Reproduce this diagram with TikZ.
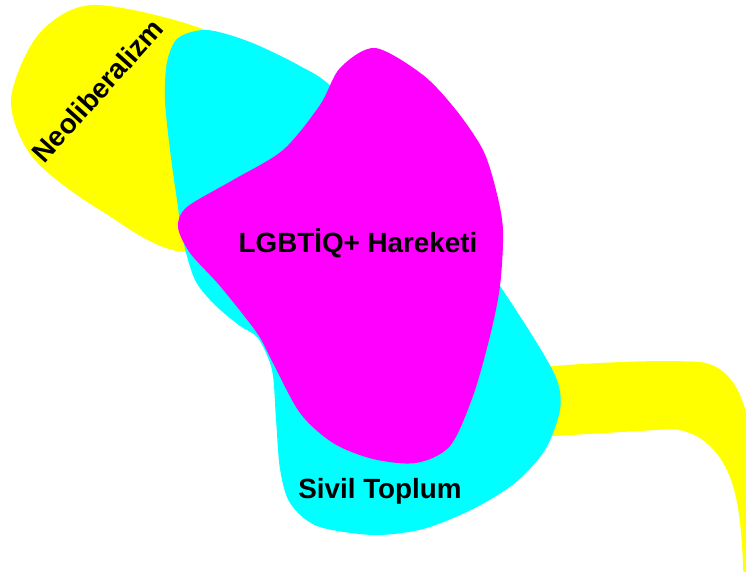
\documentclass[tikz,border=0pt]{standalone}
\usepackage{fontspec}
\setmainfont{Liberation Sans}
\usetikzlibrary{positioning}
\definecolor{mYellow}{HTML}{FFFF00}
\definecolor{mCyan}{HTML}{00FFFF}
\definecolor{mMagenta}{HTML}{FF00FF}

\begin{document}
\begin{tikzpicture}[x=1pt, y=-1pt,
      lbl/.style={font=\fontsize{27.8}{32}\selectfont\bfseries, inner sep=0pt, anchor=base}]
    \useasboundingbox (0,0) rectangle (746,572);
    \clip (0,0) rectangle (746,572);
    % yellow band
    \fill[mYellow] plot[smooth cycle] coordinates {(11,100) (38,35) (92,5) (200,28)
        (300,80) (330,200) (190,252) (100,210) (33,158)};
    \fill[mYellow] (470,380) -- (553,366) .. controls (620,361) and (670,360) .. (700,362)
        .. controls (725,365) and (742,385) .. (750,430) -- (775,600) -- (744,600)
        .. controls (743,540) and (740,510) .. (733,486)
        .. controls (722,450) and (700,432) .. (673,429) -- (553,436) -- (470,440) -- cycle;
    % cyan
    \fill[mCyan] plot[smooth cycle] coordinates {(167,62) (178,38) (207,30) (250,42)
        (300,66) (335,90) (420,180) (470,245) (500,286) (535,340) (557,380) (560,410)
        (545,450) (515,483) (473,509) (423,529) (373,535) (317,526) (290,503) (280,469)
        (276,419) (272,370) (258,338) (240,326) (215,305) (195,280) (183,240) (177,200)
        (170,150) (165,100)};
    % magenta
    \fill[mMagenta] plot[smooth cycle] coordinates {(375,48) (423,75) (456,110) (483,150)
        (496,190) (503,230) (500,286) (490,336) (473,396) (450,446) (416,463) (373,459)
        (333,443) (300,413) (273,363) (257,333) (220,286) (190,253) (178,227) (187,207)
        (233,180) (283,150) (320,105) (340,68)};
    % labels
    \node[lbl, rotate=48] (neo) at (105,97) {Neoliberalizm};
    \node[lbl] (lgbt) at (358,252) {LGBTİQ+ Hareketi};
    \node[lbl] (sivil) at (380,498) {Sivil Toplum};
\end{tikzpicture}
\end{document}
